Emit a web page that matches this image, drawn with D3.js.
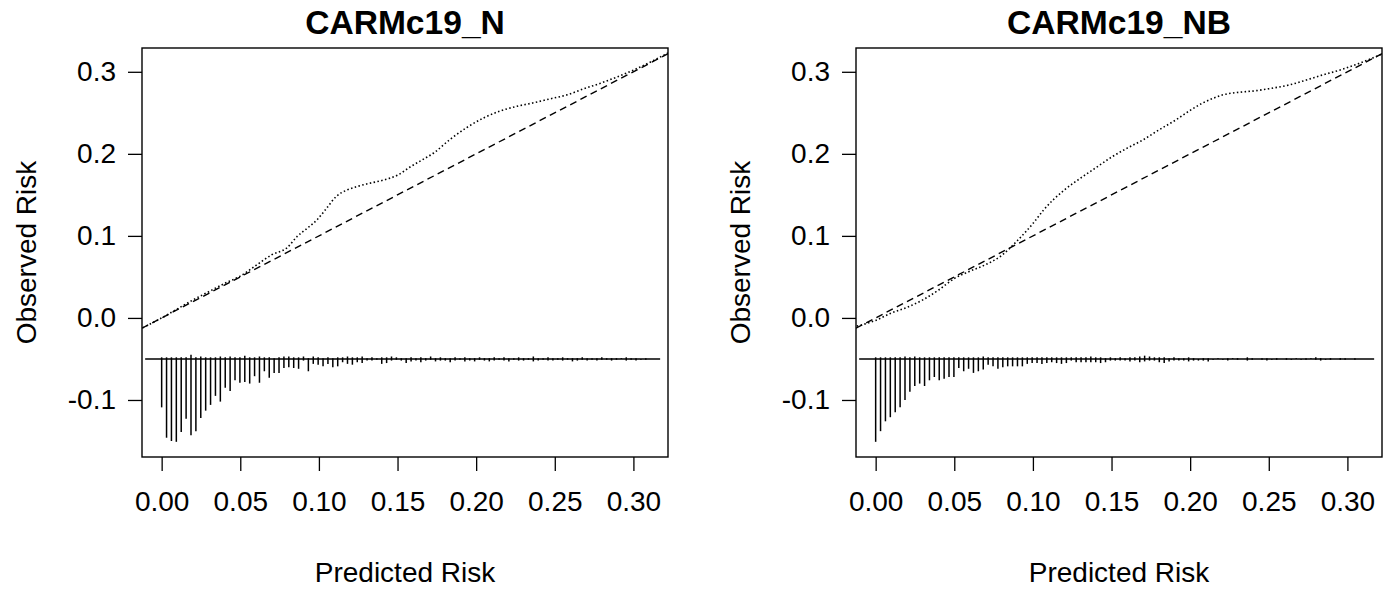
<!DOCTYPE html>
<html>
<head>
<meta charset="utf-8">
<script src="https://cdn.jsdelivr.net/npm/d3@7"></script>
<style>
  body { margin: 0; background: #fff; }
  svg text { font-family: "Liberation Sans", Arial, sans-serif; fill: #000; }
</style>
</head>
<body>
<div id="chart"></div>
<script>
const width = 1390;
const height = 589;

// panel titles
const panelTitles = ["CARMc19_N", "CARMc19_NB"];

// axis ticks
const xTicks = [0, 0.05, 0.10, 0.15, 0.20, 0.25, 0.30];
const xTickLabels = ["0.00", "0.05", "0.10", "0.15", "0.20", "0.25", "0.30"];
const yTicks = [-0.1, 0, 0.1, 0.2, 0.3];
const yTickLabels = ["-0.1", "0.0", "0.1", "0.2", "0.3"];

// plotting limits (R style, 4% extension)
const xLim = [-0.0125, 0.322];
const yLim = [-0.1695, 0.329];
const spikeBase = -0.05;
const spikeRange = [-0.0105, 0.317];
const binStart = 0;
const binWidth = 0.00311;

// smoothed calibration curve, CARMc19_N
const curveNx = [-0.012, 0.0, 0.01, 0.02, 0.03, 0.04, 0.05, 0.06, 0.07, 0.08, 0.086, 0.093, 0.099, 0.105, 0.111, 0.118, 0.124, 0.132, 0.141, 0.150, 0.158, 0.166, 0.173, 0.183, 0.194, 0.205, 0.215, 0.226, 0.236, 0.247, 0.258, 0.268, 0.279, 0.290, 0.300, 0.311, 0.322];
const curveNy = [-0.012, 0.0, 0.011, 0.022, 0.032, 0.042, 0.051, 0.064, 0.077, 0.086, 0.099, 0.110, 0.120, 0.134, 0.148, 0.156, 0.160, 0.164, 0.168, 0.174, 0.184, 0.193, 0.201, 0.217, 0.232, 0.244, 0.252, 0.258, 0.262, 0.267, 0.272, 0.279, 0.286, 0.294, 0.302, 0.312, 0.323];

// smoothed calibration curve, CARMc19_NB
const curveNBx = [-0.012, 0.0, 0.01, 0.02, 0.03, 0.04, 0.05, 0.06, 0.07, 0.08, 0.09, 0.10, 0.107, 0.120, 0.130, 0.140, 0.150, 0.160, 0.170, 0.180, 0.191, 0.200, 0.208, 0.215, 0.221, 0.231, 0.242, 0.252, 0.263, 0.274, 0.284, 0.295, 0.305, 0.321];
const curveNBy = [-0.010, -0.003, 0.006, 0.013, 0.022, 0.034, 0.048, 0.057, 0.065, 0.076, 0.094, 0.115, 0.132, 0.156, 0.170, 0.183, 0.196, 0.207, 0.217, 0.229, 0.2415, 0.253, 0.262, 0.268, 0.272, 0.275, 0.277, 0.280, 0.284, 0.290, 0.296, 0.302, 0.3085, 0.3207];

// risk distribution spikes (non-events down, events up), CARMc19_N
const spikeNdown = [0.059, 0.096, 0.100, 0.101, 0.089, 0.073, 0.093, 0.088, 0.072, 0.063, 0.056, 0.045, 0.052, 0.035, 0.039, 0.026, 0.029, 0.028, 0.030, 0.021,
  0.029, 0.015, 0.023, 0.017, 0.017, 0.011, 0.010, 0.011, 0.012, 0.002, 0.015, 0.006, 0.007, 0.009, 0.006, 0.010, 0.009, 0.004, 0.006, 0.007,
  0.004, 0.005, 0.002, 0.002, 0.001, 0.006, 0.005, 0.002, 0.001, 0.002, 0.005, 0.003, 0.002, 0.004, 0.002, 0.001, 0.003, 0.002, 0.002, 0.004,
  0.002, 0.001, 0.003, 0.002, 0.003, 0.001, 0.002, 0.003, 0.002, 0.001, 0.002, 0.003, 0.001, 0.002, 0.002, 0.001, 0.003, 0.002, 0.001, 0.002,
  0.002, 0.001, 0.002, 0.001, 0.003, 0.002, 0.001, 0.002, 0.001, 0.002, 0.001, 0.001, 0.002, 0.001, 0.000, 0.002, 0.001, 0.002, 0.001, 0.001];
const spikeNup = [0.002, 0.002, 0.002, 0.002, 0.002, 0.002, 0.005, 0.002, 0.003, 0.002, 0.002, 0.002, 0.003, 0.002, 0.003, 0.002, 0.002, 0.004, 0.002, 0.002,
  0.003, 0.002, 0.002, 0.001, 0.002, 0.003, 0.003, 0.002, 0.002, 0.003, 0.001, 0.003, 0.002, 0.001, 0.002, 0.001, 0.002, 0.002, 0.003, 0.002,
  0.002, 0.003, 0.001, 0.002, 0.001, 0.002, 0.002, 0.003, 0.002, 0.001, 0.001, 0.002, 0.001, 0.002, 0.001, 0.003, 0.001, 0.002, 0.001, 0.001,
  0.002, 0.001, 0.002, 0.001, 0.001, 0.002, 0.001, 0.001, 0.002, 0.001, 0.002, 0.001, 0.001, 0.002, 0.001, 0.001, 0.003, 0.001, 0.001, 0.002,
  0.001, 0.001, 0.002, 0.001, 0.001, 0.001, 0.002, 0.001, 0.001, 0.001, 0.002, 0.001, 0.001, 0.001, 0.001, 0.002, 0.001, 0.001, 0.000, 0.001];

// risk distribution spikes, CARMc19_NB
const spikeNBdown = [0.101, 0.088, 0.076, 0.071, 0.065, 0.059, 0.050, 0.040, 0.033, 0.030, 0.033, 0.026, 0.022, 0.026, 0.024, 0.022, 0.022, 0.011, 0.015, 0.012,
  0.017, 0.015, 0.013, 0.007, 0.009, 0.012, 0.010, 0.009, 0.009, 0.009, 0.009, 0.006, 0.005, 0.005, 0.006, 0.005, 0.004, 0.005, 0.006, 0.005,
  0.002, 0.004, 0.004, 0.004, 0.004, 0.004, 0.005, 0.004, 0.002, 0.002, 0.002, 0.002, 0.003, 0.002, 0.004, 0.003, 0.002, 0.002, 0.004, 0.005,
  0.003, 0.002, 0.002, 0.002, 0.003, 0.002, 0.002, 0.002, 0.003, 0.001, 0.000, 0.001, 0.002, 0.000, 0.001, 0.000, 0.002, 0.001, 0.000, 0.001,
  0.002, 0.001, 0.001, 0.000, 0.001, 0.001, 0.000, 0.001, 0.001, 0.000, 0.001, 0.002, 0.001, 0.001, 0.000, 0.001, 0.001, 0.000, 0.001, 0.000];
const spikeNBup = [0.002, 0.002, 0.002, 0.002, 0.002, 0.002, 0.003, 0.002, 0.003, 0.002, 0.002, 0.002, 0.002, 0.002, 0.002, 0.002, 0.002, 0.002, 0.002, 0.002,
  0.002, 0.002, 0.003, 0.002, 0.002, 0.002, 0.002, 0.002, 0.002, 0.002, 0.002, 0.002, 0.002, 0.002, 0.002, 0.002, 0.002, 0.002, 0.002, 0.002,
  0.002, 0.002, 0.002, 0.002, 0.003, 0.002, 0.002, 0.001, 0.002, 0.001, 0.002, 0.001, 0.002, 0.002, 0.003, 0.004, 0.003, 0.002, 0.002, 0.002,
  0.001, 0.002, 0.001, 0.001, 0.002, 0.001, 0.000, 0.001, 0.001, 0.000, 0.001, 0.000, 0.001, 0.001, 0.001, 0.000, 0.002, 0.001, 0.000, 0.001,
  0.001, 0.000, 0.001, 0.000, 0.001, 0.000, 0.001, 0.000, 0.001, 0.001, 0.002, 0.001, 0.000, 0.001, 0.000, 0.001, 0.001, 0.000, 0.001, 0.000];

const panels = [
  { title: panelTitles[0], left: 142, cx: curveNx, cy: curveNy, down: spikeNdown, up: spikeNup },
  { title: panelTitles[1], left: 856, cx: curveNBx, cy: curveNBy, down: spikeNBdown, up: spikeNBup }
];

const boxW = 526;
const boxTop = 48;
const boxBottom = 457;
const fontSize = 28;

const svg = d3.select("#chart")
  .append("svg")
  .attr("width", width)
  .attr("height", height)
  .attr("viewBox", [0, 0, width, height]);

panels.forEach(p => {
  const x = d3.scaleLinear(xLim, [p.left, p.left + boxW]);
  const y = d3.scaleLinear(yLim, [boxBottom, boxTop]);
  const g = svg.append("g");

  const clipId = "clip" + p.left;
  svg.append("clipPath").attr("id", clipId)
    .append("rect")
    .attr("x", p.left).attr("y", boxTop)
    .attr("width", boxW).attr("height", boxBottom - boxTop);

  // axes
  g.append("g")
    .attr("transform", `translate(${p.left},0)`)
    .call(d3.axisLeft(y).tickValues(yTicks).tickSize(14).tickPadding(12)
      .tickFormat((d, i) => yTickLabels[i]))
    .call(a => a.select(".domain").remove())
    .call(a => a.selectAll("line").attr("stroke", "#000").attr("stroke-width", 1.3))
    .call(a => a.selectAll("text").attr("font-size", fontSize).attr("font-family", null));

  g.append("g")
    .attr("transform", `translate(0,${boxBottom})`)
    .call(d3.axisBottom(x).tickValues(xTicks).tickSize(14).tickPadding(20)
      .tickFormat((d, i) => xTickLabels[i]))
    .call(a => a.select(".domain").remove())
    .call(a => a.selectAll("line").attr("stroke", "#000").attr("stroke-width", 1.3))
    .call(a => a.selectAll("text").attr("font-size", fontSize).attr("font-family", null));

  const plot = g.append("g").attr("clip-path", `url(#${clipId})`);

  // ideal line
  plot.append("line")
    .attr("x1", x(xLim[0])).attr("y1", y(xLim[0]))
    .attr("x2", x(xLim[1])).attr("y2", y(xLim[1]))
    .attr("stroke", "#000")
    .attr("stroke-width", 1.4)
    .attr("stroke-dasharray", "7,4.5");

  // smoothed curve
  const pts = p.cx.map((v, i) => [v, p.cy[i]]);
  plot.append("path")
    .datum(pts)
    .attr("fill", "none")
    .attr("stroke", "#000")
    .attr("stroke-width", 1.6)
    .attr("stroke-dasharray", "1.5,2.4")
    .attr("d", d3.line().x(d => x(d[0])).y(d => y(d[1])).curve(d3.curveMonotoneX));

  // risk distribution
  plot.append("line")
    .attr("x1", x(spikeRange[0])).attr("x2", x(spikeRange[1]))
    .attr("y1", y(spikeBase)).attr("y2", y(spikeBase))
    .attr("stroke", "#000").attr("stroke-width", 1.4);

  const bins = p.down.map((d, i) => ({ pos: binStart + i * binWidth, down: d, up: p.up[i] }));
  plot.append("g")
    .selectAll("line")
    .data(bins.filter(b => b.down > 0 || b.up > 0))
    .join("line")
    .attr("x1", d => x(d.pos)).attr("x2", d => x(d.pos))
    .attr("y1", d => y(spikeBase + d.up))
    .attr("y2", d => y(spikeBase - d.down))
    .attr("stroke", "#000").attr("stroke-width", 1.5);

  // box
  g.append("rect")
    .attr("x", p.left).attr("y", boxTop)
    .attr("width", boxW).attr("height", boxBottom - boxTop)
    .attr("fill", "none").attr("stroke", "#000").attr("stroke-width", 1.4);

  // titles and labels
  g.append("text")
    .attr("x", p.left + boxW / 2).attr("y", 34)
    .attr("text-anchor", "middle")
    .attr("font-weight", "bold")
    .attr("font-size", 33.6)
    .text(p.title);

  g.append("text")
    .attr("x", p.left + boxW / 2).attr("y", 582)
    .attr("text-anchor", "middle")
    .attr("font-size", fontSize)
    .text("Predicted Risk");

  g.append("text")
    .attr("transform", `translate(${p.left - 106},${(boxTop + boxBottom) / 2}) rotate(-90)`)
    .attr("text-anchor", "middle")
    .attr("font-size", fontSize)
    .text("Observed Risk");
});
</script>
</body>
</html>
